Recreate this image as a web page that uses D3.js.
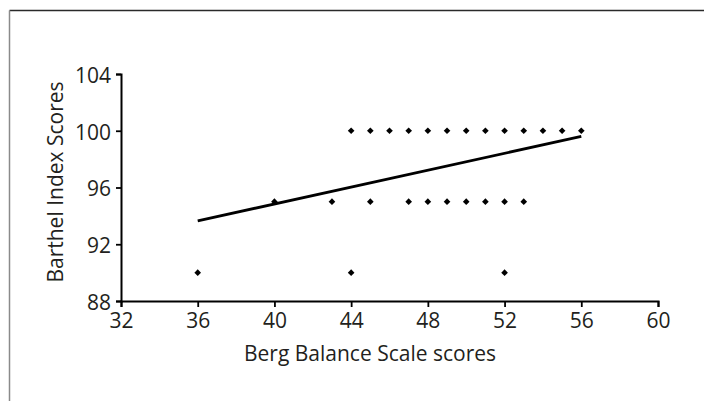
<!DOCTYPE html>
<html>
<head>
<meta charset="utf-8">
<script src="https://cdn.jsdelivr.net/npm/d3@7"></script>
<style>
  body { margin: 0; background: #fff; }
  svg { display: block; }
  text { font-family: "Open Sans", sans-serif; fill: #231f20; }
</style>
</head>
<body>
<svg id="chart"></svg>
<script>
// data
const xTicks = [32, 36, 40, 44, 48, 52, 56, 60]
const yTicks = [88, 92, 96, 100, 104]

const bergTop = [44, 45, 46, 47, 48, 49, 50, 51, 52, 53, 54, 55, 56]
const barthelTop = 100
const bergMid = [40, 43, 45, 47, 48, 49, 50, 51, 52, 53]
const barthelMid = 95
const bergLow = [36, 44, 52]
const barthelLow = 90

// fitted line end points
const fitBerg = [36, 56]
const fitBarthel = [93.65, 99.6]

const points = [
  ...bergTop.map((x) => ({ x, y: barthelTop })),
  ...bergMid.map((x) => ({ x, y: barthelMid })),
  ...bergLow.map((x) => ({ x, y: barthelLow })),
]
const fit = fitBerg.map((x, i) => ({ x, y: fitBarthel[i] }))

const dimensions = {
  width: 704,
  height: 401,
  margin: { top: 74, bottom: 100, right: 46, left: 121 },
}
dimensions.boundedWidth =
  dimensions.width - dimensions.margin.left - dimensions.margin.right
dimensions.boundedHeight =
  dimensions.height - dimensions.margin.top - dimensions.margin.bottom

const wrapper = d3
  .select("#chart")
  .attr("width", dimensions.width)
  .attr("height", dimensions.height)

// outer frame (only top and left edges show)
wrapper
  .append("line")
  .attr("x1", 9.5).attr("x2", dimensions.width)
  .attr("y1", 10.5).attr("y2", 10.5)
  .attr("stroke", "#2a2a2a").attr("stroke-width", 1.5)
wrapper
  .append("line")
  .attr("x1", 9.5).attr("x2", 9.5)
  .attr("y1", 10.5).attr("y2", dimensions.height)
  .attr("stroke", "#8a8a8a").attr("stroke-width", 1.5)

const bounds = wrapper
  .append("g")
  .attr("transform", `translate(${dimensions.margin.left},${dimensions.margin.top})`)

const xScale = d3.scaleLinear().domain([32, 60]).range([0, dimensions.boundedWidth])
const yScale = d3.scaleLinear().domain([88, 104]).range([dimensions.boundedHeight, 0])

// axes
const xAxis = bounds
  .append("g")
  .attr("transform", `translate(0,${dimensions.boundedHeight})`)
  .call(d3.axisBottom(xScale).tickValues(xTicks).tickSize(6).tickPadding(2))
const yAxis = bounds
  .append("g")
  .call(d3.axisLeft(yScale).tickValues(yTicks).tickSize(5).tickPadding(5))

for (const axis of [xAxis, yAxis]) {
  axis.select(".domain").attr("stroke", "#000").attr("stroke-width", 2)
  axis.selectAll(".tick line").attr("stroke", "#000").attr("stroke-width", 1.8)
  axis
    .selectAll(".tick text")
    .attr("fill", "#231f20")
    .style("font-family", '"Open Sans", sans-serif')
    .style("font-size", "21px")
}
xAxis.selectAll(".tick text").attr("dy", "0.9em")
yAxis.selectAll(".tick text").attr("dy", "0.4em")

// fitted line
const lineGenerator = d3
  .line()
  .x((d) => xScale(d.x))
  .y((d) => yScale(d.y))
bounds
  .append("path")
  .attr("d", lineGenerator(fit))
  .attr("fill", "none")
  .attr("stroke", "#000")
  .attr("stroke-width", 2.8)

// points
const marker = d3.symbol(d3.symbolSquare, 22)
bounds
  .selectAll(".pt")
  .data(points)
  .join("path")
  .attr("class", "pt")
  .attr("d", marker)
  .attr("transform", (d) => `translate(${xScale(d.x)},${yScale(d.y)}) rotate(45)`)
  .attr("fill", "#000")

// axis titles
wrapper
  .append("text")
  .attr("x", 370)
  .attr("y", 361)
  .attr("text-anchor", "middle")
  .style("font-size", "21px")
  .text("Berg Balance Scale scores")

wrapper
  .append("text")
  .attr("transform", "translate(63,182) rotate(-90)")
  .attr("text-anchor", "middle")
  .style("font-size", "21px")
  .text("Barthel Index Scores")
</script>
</body>
</html>
